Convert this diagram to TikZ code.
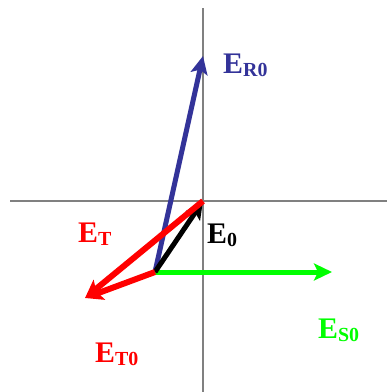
\documentclass[tikz,border=0pt]{standalone}
\usepackage{fontspec}
\setmainfont{Liberation Serif}
\usetikzlibrary{arrows.meta}

\definecolor{rblue}{RGB}{51,51,153}
\newcommand{\vsub}[1]{\raisebox{-0.12em}{\fontsize{20}{22}\selectfont #1}}

\begin{document}
\begin{tikzpicture}[x=1bp,y=-1bp,>={Stealth[length=18bp,width=17bp,inset=4bp]},
  axis/.style={gray,line width=2bp},
  vec/.style={line width=5bp,->},
  lab/.style={inner sep=0pt,anchor=base west,font=\bfseries\fontsize{30}{32}\selectfont}]

\useasboundingbox (0,0) rectangle (387,392);

% Axes
\draw[axis] (10,201) -- (387,201);
\draw[axis] (203,8) -- (203,392);

% Field points
\coordinate (o) at (203,201);
\coordinate (p) at (155,272);
\coordinate (r0) at (203,56);
\coordinate (s0) at (332,272);
\coordinate (t) at (85,298);

% Vectors
\draw[vec,green] (p) -- (s0);
\draw[vec,rblue] (p) -- (r0);
\draw[vec,black] (p) -- (o);
\draw[vec,red,line width=6bp] (o) -- (t);
\draw[vec,red,line width=6bp] (p) -- (t);

% Labels
\node[lab,rblue] (lr0) at (223,73) {E\vsub{R0}};
\node[lab,red] (lt) at (78,242) {E\vsub{T}};
\node[lab,black] (l0) at (207,243) {E\vsub{0}};
\node[lab,green] (ls0) at (318,338) {E\vsub{S0}};
\node[lab,red] (lt0) at (95,362) {E\vsub{T0}};

\end{tikzpicture}
\end{document}
